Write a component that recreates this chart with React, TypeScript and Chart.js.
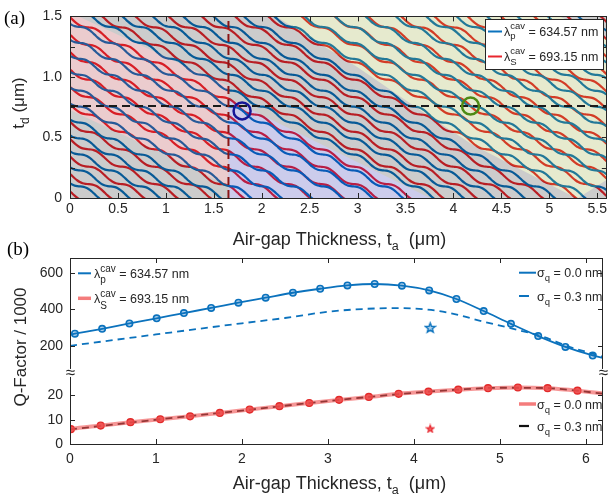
import React, { useEffect, useRef } from "react";
import { Chart, registerables } from "chart.js";

Chart.register(...registerables);

const FONT = "'Liberation Sans', Arial, Helvetica, sans-serif";
const SERIF = "'Liberation Serif', 'Times New Roman', serif";
const AXIS = "#262626";

// ================= Panel (a) data =================
const aTaTicks = [0, 0.5, 1, 1.5, 2, 2.5, 3, 3.5, 4, 4.5, 5, 5.5];
const aTaLabels = ["0", "0.5", "1", "1.5", "2", "2.5", "3", "3.5", "4", "4.5", "5", "5.5"];
const aTdTicks = [0, 0.25, 0.5, 0.75, 1, 1.25, 1.5];
const aTdLabels = ["0", "", "0.5", "", "1.0", "", "1.5"];

// shape of one air-gap period of a resonance curve (fraction of one step in t_d), 12 samples
const stepShape = [0, 0.15, 0.28, 0.385, 0.45, 0.485, 0.5, 0.515, 0.55, 0.615, 0.72, 0.85];

// λp (634.57 nm) curves
const blueRefTa = 0.26;
const bluePeriodTa = 0.317;
const blueStepTd = 0.1317;
const blueTdAtRef = [0.03, 0.162, 0.294, 0.426, 0.557, 0.689, 0.821, 0.952, 1.084, 1.215, 1.347, 1.479, 1.61, 1.742, 1.874, 2.005, 2.137, 2.269, 2.4, 2.532, 2.664, 2.795, 2.927, 3.058, 3.19, 3.322, 3.453, 3.585];

// λS (693.15 nm) curves
const redRefTa = 0.363;
const redPeriodTa = 0.3466;
const redStepTd = 0.1438;
const redTdAtRef = [-0.101, 0.043, 0.187, 0.331, 0.474, 0.618, 0.762, 0.906, 1.05, 1.193, 1.337, 1.481, 1.625, 1.768, 1.912, 2.056, 2.2, 2.344, 2.487, 2.631, 2.775, 2.919, 3.062, 3.206, 3.35, 3.494, 3.638];

// shaded regions (ta, td)
const regionPink: [number, number][] = [[0, 0.727], [0, 1.5], [0.09, 1.5], [1.653, 0.925], [1.653, 0.1], [1.1, 0.32]];
const regionLavender: [number, number][] = [[1.653, 0], [1.653, 0.821], [3.755, 0]];
const regionYellow: [number, number][] = [[2.15, 1.5], [5.11, 1.5], [5.6, 1.314], [5.6, 0.15], [5.3, 0], [5.28, 0], [4.2, 0.44], [3.7, 0.7], [3.0, 1.08]];

const tdCut = 0.76;
const taCut = 1.653;
const blueCircle = [1.795, 0.719];
const greenCircle = [4.178, 0.759];

// ================= Panel (b) data =================
const bTaTicks = [0, 1, 2, 3, 4, 5, 6];
const qLowTicks = [0, 10, 20];
const qHighTicks = [200, 400, 600];

const pMarkTa = [0.057, 0.374, 0.691, 1.008, 1.325, 1.642, 1.959, 2.276, 2.593, 2.91, 3.227, 3.544, 3.861, 4.178, 4.495, 4.812, 5.129, 5.446, 5.763, 6.08];
const pMarkQ = [266, 293, 322, 350, 379, 407, 436, 463, 490, 512, 530, 538, 529, 503, 456, 390, 320, 253, 194, 147];
const pLineTa = [0, ...pMarkTa, 6.2];
const pLineQ = [261, ...pMarkQ, 133];
const pRoughTa = [0, 0.5, 1.0, 1.5, 2.0, 2.5, 3.0, 3.4, 3.8, 4.2, 4.5, 4.8, 5.1, 5.5, 5.8, 6.2];
const pRoughQ = [200, 231, 262, 293, 323, 352, 386, 401, 406, 396, 370, 333, 299, 250, 196, 141];

const sMarkTa = [0.01, 0.357, 0.703, 1.05, 1.397, 1.743, 2.09, 2.436, 2.783, 3.13, 3.476, 3.823, 4.17, 4.516, 4.863, 5.21, 5.556, 5.903];
const sMarkQ = [6.1, 7.6, 9.0, 10.2, 11.4, 12.8, 14.2, 15.6, 16.9, 18.2, 19.4, 20.7, 21.6, 22.4, 23.0, 23.3, 23.0, 22.0];
const sLineTa = [0, ...sMarkTa, 6.2];
const sLineQ = [6.0, ...sMarkQ, 20.8];
const sRoughTa = [0, 1, 2, 3, 4, 4.5, 5, 5.5, 6.2];
const sRoughQ = [6.0, 10.0, 13.8, 17.7, 21.1, 22.4, 23.2, 23.1, 20.8];

const pStar = [4.19, 300];
const sStar = [4.19, 6.4];

// broken-axis mapping: high Q values onto the upper part of the axis
const Q_BREAK_U = 29.3;
const qHigh = (v: number) => 40.5 + (v - 200) * 0.0754;

// ================= helpers =================
const font = (s: number, fam = FONT) => `${s}px ${fam}`;
type Seg = { t: string; size: number; dy?: number; keep?: boolean };

function segsWidth(ctx: CanvasRenderingContext2D, segs: Seg[]) {
  let w = 0;
  for (const s of segs) {
    ctx.font = font(s.size);
    if (!s.keep) w += ctx.measureText(s.t).width;
  }
  return w;
}
function drawSegs(ctx: CanvasRenderingContext2D, x: number, y: number, segs: Seg[], color = AXIS) {
  ctx.fillStyle = color;
  ctx.textAlign = "left";
  ctx.textBaseline = "alphabetic";
  let cx = x;
  for (const s of segs) {
    ctx.font = font(s.size);
    ctx.fillText(s.t, cx, y + (s.dy || 0));
    if (!s.keep) cx += ctx.measureText(s.t).width;
  }
}
function drawCentered(ctx: CanvasRenderingContext2D, cx: number, y: number, segs: Seg[]) {
  drawSegs(ctx, cx - segsWidth(ctx, segs) / 2, y, segs);
}
function drawRotated(ctx: CanvasRenderingContext2D, x: number, cy: number, segs: Seg[]) {
  ctx.save();
  ctx.translate(x, cy);
  ctx.rotate(-Math.PI / 2);
  drawSegs(ctx, -segsWidth(ctx, segs) / 2, 0, segs);
  ctx.restore();
}
function legendLine(ctx: CanvasRenderingContext2D, x1: number, x2: number, y: number, color: string, w: number, dash: number[] = []) {
  ctx.save();
  ctx.strokeStyle = color;
  ctx.lineWidth = w;
  ctx.setLineDash(dash);
  ctx.beginPath();
  ctx.moveTo(x1, y);
  ctx.lineTo(x2, y);
  ctx.stroke();
  ctx.restore();
}
function boxAndTicks(chart: any, xt: number[], yt: number[]) {
  const { ctx, chartArea: a, scales } = chart;
  ctx.save();
  ctx.strokeStyle = AXIS;
  ctx.lineWidth = 1;
  ctx.setLineDash([]);
  ctx.beginPath();
  for (const v of xt) {
    const p = Math.round(scales.x.getPixelForValue(v)) + 0.5;
    ctx.moveTo(p, a.bottom);
    ctx.lineTo(p, a.bottom - 5);
    ctx.moveTo(p, a.top);
    ctx.lineTo(p, a.top + 5);
  }
  for (const v of yt) {
    const p = Math.round(scales.y.getPixelForValue(v)) + 0.5;
    ctx.moveTo(a.left, p);
    ctx.lineTo(a.left + 5, p);
    ctx.moveTo(a.right, p);
    ctx.lineTo(a.right - 5, p);
  }
  ctx.stroke();
  ctx.strokeRect(Math.round(a.left) + 0.5, Math.round(a.top) + 0.5, Math.round(a.right - a.left) - 1, Math.round(a.bottom - a.top));
  ctx.restore();
}
function makeStar(size: number, fill: string, stroke: string, lw: number) {
  const c = document.createElement("canvas");
  c.width = size;
  c.height = size;
  const g = c.getContext("2d")!;
  const cx = size / 2, cy = size / 2 + 0.5, R = size / 2 - lw, r = R * 0.42;
  g.beginPath();
  for (let i = 0; i < 10; i++) {
    const ang = -Math.PI / 2 + (i * Math.PI) / 5;
    const rr = i % 2 === 0 ? R : r;
    const px = cx + rr * Math.cos(ang), py = cy + rr * Math.sin(ang);
    if (i === 0) g.moveTo(px, py); else g.lineTo(px, py);
  }
  g.closePath();
  g.fillStyle = fill;
  g.fill();
  g.strokeStyle = stroke;
  g.lineWidth = lw;
  g.stroke();
  return c;
}
function curve(refTa: number, period: number, step: number, tdRef: number) {
  const pts: { x: number; y: number }[] = [];
  const jMin = Math.floor(-refTa / period) - 1;
  const jMax = Math.ceil((5.6 - refTa) / period) + 1;
  for (let j = jMin; j <= jMax; j++) {
    stepShape.forEach((f, i) => {
      pts.push({ x: refTa + (j + i / stepShape.length) * period, y: tdRef - step * (j + f) });
    });
  }
  return pts;
}
const zip = (xs: number[], ys: number[], f = (v: number) => v) => xs.map((x, i) => ({ x, y: f(ys[i]) }));
const labelFor = (vals: number[], labels: string[]) => (v: any) => {
  const i = vals.findIndex((t) => Math.abs(t - Number(v)) < 1e-6);
  return i >= 0 ? labels[i] : "";
};
const xTitle: Seg[] = [
  { t: "Air-gap Thickness, t", size: 18 },
  { t: "a", size: 12.5, dy: 5 },
  { t: "  (μm)", size: 18 },
];

// ================= Panel (a) config =================
function configA(): any {
  const datasets: any[] = [];
  blueTdAtRef.forEach((c) =>
    datasets.push({ data: curve(blueRefTa, bluePeriodTa, blueStepTd, c), borderColor: "#0b72bd", borderWidth: 2.2, pointRadius: 0, cubicInterpolationMode: "monotone" })
  );
  redTdAtRef.forEach((c) =>
    datasets.push({ data: curve(redRefTa, redPeriodTa, redStepTd, c), borderColor: "#e8262e", borderWidth: 2.2, pointRadius: 0, cubicInterpolationMode: "monotone" })
  );

  const overlay = {
    id: "overlayA",
    afterDatasetsDraw(chart: any) {
      const { ctx, chartArea: a, scales } = chart;
      const X = (v: number) => scales.x.getPixelForValue(v);
      const Y = (v: number) => scales.y.getPixelForValue(v);
      const off = document.createElement("canvas");
      off.width = chart.width;
      off.height = chart.height;
      const o = off.getContext("2d")!;
      o.beginPath();
      o.rect(a.left, a.top, a.right - a.left, a.bottom - a.top);
      o.clip();
      o.fillStyle = "rgb(0,0,0)";
      o.fillRect(a.left, a.top, a.right - a.left, a.bottom - a.top);
      const poly = (pts: [number, number][], col: string) => {
        o.fillStyle = col;
        o.beginPath();
        pts.forEach(([x, y], i) => (i ? o.lineTo(X(x), Y(y)) : o.moveTo(X(x), Y(y))));
        o.closePath();
        o.fill();
      };
      poly(regionPink, "rgb(155,0,10)");
      poly(regionLavender, "rgb(0,0,160)");
      poly(regionYellow, "rgb(130,150,10)");
      ctx.save();
      ctx.globalAlpha = 0.2;
      ctx.drawImage(off, 0, 0);
      ctx.restore();

      // guide lines
      ctx.save();
      ctx.beginPath();
      ctx.rect(a.left, a.top, a.right - a.left, a.bottom - a.top);
      ctx.clip();
      ctx.setLineDash([8, 5]);
      ctx.lineWidth = 2;
      ctx.strokeStyle = "#1a1a1a";
      ctx.beginPath();
      ctx.moveTo(a.left, Y(tdCut));
      ctx.lineTo(a.right, Y(tdCut));
      ctx.stroke();
      ctx.strokeStyle = "#8a1515";
      ctx.beginPath();
      ctx.moveTo(X(taCut), a.bottom);
      ctx.lineTo(X(taCut), a.top);
      ctx.stroke();
      ctx.setLineDash([]);
      ctx.lineWidth = 2.5;
      ctx.strokeStyle = "#161696";
      ctx.beginPath();
      ctx.arc(X(blueCircle[0]), Y(blueCircle[1]), 8.5, 0, Math.PI * 2);
      ctx.stroke();
      ctx.strokeStyle = "#4e8a14";
      ctx.beginPath();
      ctx.arc(X(greenCircle[0]), Y(greenCircle[1]), 8.5, 0, Math.PI * 2);
      ctx.stroke();
      ctx.restore();
    },
    afterDraw(chart: any) {
      const { ctx } = chart;
      boxAndTicks(chart, aTaTicks, aTdTicks);
      // legend
      ctx.save();
      ctx.fillStyle = "#fff";
      ctx.fillRect(485, 19, 119, 51);
      ctx.strokeStyle = AXIS;
      ctx.lineWidth = 1;
      ctx.strokeRect(485.5, 19.5, 118, 50);
      ctx.restore();
      legendLine(ctx, 488, 502, 31.5, "#0b72bd", 2);
      legendLine(ctx, 488, 502, 56.5, "#e8262e", 2);
      drawSegs(ctx, 504, 35.5, [
        { t: "λ", size: 12.5 },
        { t: "p", size: 9.5, dy: 3.5, keep: true },
        { t: "cav", size: 9.5, dy: -6.5 },
        { t: " = 634.57 nm", size: 12.5 },
      ]);
      drawSegs(ctx, 504, 60.5, [
        { t: "λ", size: 12.5 },
        { t: "S", size: 9.5, dy: 4.5, keep: true },
        { t: "cav", size: 9.5, dy: -6.5 },
        { t: " = 693.15 nm", size: 12.5 },
      ]);
      // titles
      drawCentered(ctx, 339.5, 245, xTitle);
      drawRotated(ctx, 24, 103, [
        { t: "t", size: 17 },
        { t: "d", size: 12, dy: 5 },
        { t: " (μm)", size: 17 },
      ]);
      ctx.save();
      ctx.font = font(19, SERIF);
      ctx.fillStyle = "#000";
      ctx.textAlign = "left";
      ctx.textBaseline = "alphabetic";
      ctx.fillText("(a)", 4, 24);
      ctx.restore();
    },
  };

  return {
    type: "line",
    data: { datasets },
    plugins: [overlay],
    options: {
      animation: false,
      responsive: false,
      maintainAspectRatio: false,
      events: [],
      parsing: false,
      normalized: true,
      layout: { padding: { left: 0, right: 1, top: 12, bottom: 0 } },
      plugins: { legend: { display: false }, tooltip: { enabled: false } },
      scales: {
        x: {
          type: "linear",
          min: 0,
          max: 5.6,
          grid: { display: false, drawTicks: false },
          border: { display: false },
          afterBuildTicks: (s: any) => { s.ticks = aTaTicks.map((v) => ({ value: v })); },
          afterFit: (s: any) => { s.height = 54; },
          ticks: { callback: labelFor(aTaTicks, aTaLabels), font: { family: FONT, size: 14 }, color: AXIS, padding: 3, maxRotation: 0, minRotation: 0, autoSkip: false },
        },
        y: {
          type: "linear",
          min: 0,
          max: 1.5,
          grid: { display: false, drawTicks: false },
          border: { display: false },
          afterBuildTicks: (s: any) => { s.ticks = aTdTicks.map((v) => ({ value: v })); },
          afterFit: (s: any) => { s.width = 70; },
          ticks: { callback: labelFor(aTdTicks, aTdLabels), font: { family: FONT, size: 14 }, color: AXIS, padding: 8, autoSkip: false },
        },
      },
    },
  };
}

// ================= Panel (b) config =================
function configB(): any {
  const blueStar = makeStar(13, "rgba(120,180,225,0.6)", "#0b72bd", 1.4);
  const redStar = makeStar(10, "rgba(240,70,70,0.85)", "#e8262e", 1.2);
  const bYTicks = [...qLowTicks, ...qHighTicks.map(qHigh)];
  const bYLabels = [...qLowTicks, ...qHighTicks].map(String);

  const datasets: any[] = [
    { data: zip(pRoughTa, pRoughQ, qHigh), borderColor: "#0b72bd", borderWidth: 1.8, borderDash: [7, 5], pointRadius: 0, cubicInterpolationMode: "monotone" },
    { data: zip(pLineTa, pLineQ, qHigh), borderColor: "#0b72bd", borderWidth: 1.8, pointRadius: 0, cubicInterpolationMode: "monotone" },
    { data: zip(pMarkTa, pMarkQ, qHigh), showLine: false, pointRadius: 3.2, pointBorderWidth: 1.6, pointBorderColor: "#0b72bd", pointBackgroundColor: "rgba(110,170,220,0.55)" },
    { data: zip(sLineTa, sLineQ), borderColor: "rgba(240,80,80,0.6)", borderWidth: 4, pointRadius: 0, cubicInterpolationMode: "monotone" },
    { data: zip(sMarkTa, sMarkQ), showLine: false, pointRadius: 3.4, pointBorderWidth: 1.4, pointBorderColor: "#e22a2a", pointBackgroundColor: "rgba(235,60,60,0.85)" },
    { data: zip(sRoughTa, sRoughQ), borderColor: "#111", borderWidth: 1.8, borderDash: [7, 5], pointRadius: 0, cubicInterpolationMode: "monotone" },
    { data: [{ x: pStar[0], y: qHigh(pStar[1]) }], showLine: false, pointStyle: blueStar, pointRadius: 6 },
    { data: [{ x: sStar[0], y: sStar[1] }], showLine: false, pointStyle: redStar, pointRadius: 5 },
  ];

  const deco = {
    id: "decoB",
    afterDraw(chart: any) {
      const { ctx, chartArea: a, scales } = chart;
      boxAndTicks(chart, bTaTicks, bYTicks);
      // axis break marks
      const yb = scales.y.getPixelForValue(Q_BREAK_U);
      ctx.save();
      ctx.fillStyle = "#fff";
      ctx.fillRect(a.left - 1, yb - 4, 3, 8);
      ctx.fillRect(a.right - 2, yb - 4, 3, 8);
      ctx.font = font(17);
      ctx.fillStyle = AXIS;
      ctx.textAlign = "center";
      ctx.textBaseline = "middle";
      ctx.fillText("≈", a.left + 0.5, yb);
      ctx.fillText("≈", a.right + 0.5, yb);
      ctx.restore();

      // legends
      legendLine(ctx, 78, 91, 37.3, "#0b72bd", 2);
      legendLine(ctx, 78, 91, 62.3, "rgba(240,80,80,0.75)", 3.5);
      drawSegs(ctx, 94, 42.3, [
        { t: "λ", size: 12.5 },
        { t: "p", size: 10, dy: 5, keep: true },
        { t: "cav", size: 10, dy: -6.5 },
        { t: " = 634.57 nm", size: 12.5 },
      ]);
      drawSegs(ctx, 94, 67.3, [
        { t: "λ", size: 12.5 },
        { t: "S", size: 10, dy: 6, keep: true },
        { t: "cav", size: 10, dy: -6.5 },
        { t: " = 693.15 nm", size: 12.5 },
      ]);
      legendLine(ctx, 519, 536, 36.7, "#0b72bd", 2);
      legendLine(ctx, 519, 536, 60, "#0b72bd", 2, [10, 10]);
      legendLine(ctx, 519, 536, 168, "rgba(240,80,80,0.75)", 3.5);
      legendLine(ctx, 519, 536, 190, "#111", 2.2, [10, 10]);
      const sig = (y: number, val: string) =>
        drawSegs(ctx, 537, y, [
          { t: "σ", size: 12.5 },
          { t: "q", size: 9.5, dy: 4 },
          { t: ` = ${val} nm`, size: 12.5 },
        ]);
      sig(41, "0.0");
      sig(64.5, "0.3");
      sig(173, "0.0");
      sig(195, "0.3");

      // titles
      drawCentered(ctx, 339.5, 253, xTitle);
      drawRotated(ctx, 26, 111, [{ t: "Q-Factor / 1000", size: 17 }]);
      ctx.save();
      ctx.font = font(19, SERIF);
      ctx.fillStyle = "#000";
      ctx.textAlign = "left";
      ctx.textBaseline = "alphabetic";
      ctx.fillText("(b)", 7, 19);
      ctx.restore();
    },
  };

  return {
    type: "line",
    data: { datasets },
    plugins: [deco],
    options: {
      animation: false,
      responsive: false,
      maintainAspectRatio: false,
      events: [],
      parsing: false,
      layout: { padding: { left: 0, right: 1, top: 22, bottom: 0 } },
      plugins: { legend: { display: false }, tooltip: { enabled: false } },
      scales: {
        x: {
          type: "linear",
          min: 0,
          max: 6.2,
          grid: { display: false, drawTicks: false },
          border: { display: false },
          afterBuildTicks: (s: any) => { s.ticks = bTaTicks.map((v) => ({ value: v })); },
          afterFit: (s: any) => { s.height = 56; },
          ticks: { callback: (v: any) => String(v), font: { family: FONT, size: 14 }, color: AXIS, padding: 7, maxRotation: 0, minRotation: 0, autoSkip: false },
        },
        y: {
          type: "linear",
          min: 0,
          max: 76.7,
          grid: { display: false, drawTicks: false },
          border: { display: false },
          afterBuildTicks: (s: any) => { s.ticks = bYTicks.map((v) => ({ value: v })); },
          afterFit: (s: any) => { s.width = 70; },
          ticks: { callback: labelFor(bYTicks, bYLabels), font: { family: FONT, size: 14 }, color: AXIS, padding: 7, autoSkip: false },
        },
      },
    },
  };
}

export default function App() {
  const refA = useRef<HTMLCanvasElement>(null);
  const refB = useRef<HTMLCanvasElement>(null);
  useEffect(() => {
    const a = new Chart(refA.current as HTMLCanvasElement, configA());
    const b = new Chart(refB.current as HTMLCanvasElement, configB());
    return () => {
      a.destroy();
      b.destroy();
    };
  }, []);
  return (
    <div style={{ position: "absolute", left: 0, top: 0, width: 610, height: 500, background: "#fff" }}>
      <canvas ref={refA} width={610} height={252} style={{ position: "absolute", left: 0, top: 0, width: 610, height: 252 }} />
      <canvas ref={refB} width={610} height={264} style={{ position: "absolute", left: 0, top: 236, width: 610, height: 264 }} />
    </div>
  );
}
